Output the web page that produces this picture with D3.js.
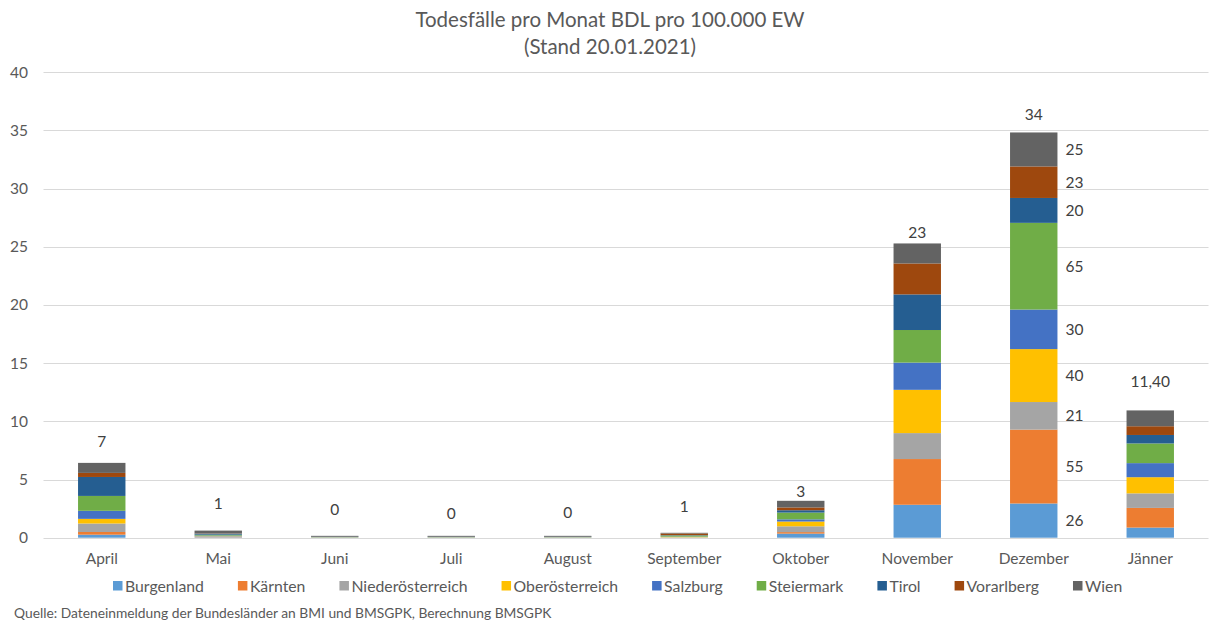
<!DOCTYPE html>
<html>
<head>
<meta charset="utf-8">
<script src="https://cdn.jsdelivr.net/npm/d3@7"></script>
<style>
  html, body { margin: 0; padding: 0; background: #fff; }
  svg { display: block; font-family: Lato, "Open Sans", sans-serif; }
</style>
</head>
<body>
<svg id="chart" width="1216" height="622"></svg>
<script>
// ---- Data ----
const months = ["April", "Mai", "Juni", "Juli", "August", "September", "Oktober", "November", "Dezember", "Jänner"];
const states = ["Burgenland", "Kärnten", "Niederösterreich", "Oberösterreich", "Salzburg", "Steiermark", "Tirol", "Vorarlberg", "Wien"];
const colors = ["#5B9BD5", "#ED7D31", "#A5A5A5", "#FFC000", "#4472C4", "#70AD47", "#255E91", "#9E480E", "#636363"];

const burgenland       = [0.26, 0.04, 0.00, 0.00, 0.00, 0.01, 0.35, 2.83, 2.94, 0.87];
const kaernten         = [0.23, 0.02, 0.00, 0.00, 0.00, 0.01, 0.13, 3.93, 6.35, 1.69];
const niederoesterreich= [0.73, 0.05, 0.04, 0.04, 0.04, 0.02, 0.50, 2.23, 2.37, 1.25];
const oberoesterreich  = [0.40, 0.02, 0.00, 0.00, 0.00, 0.03, 0.41, 3.72, 4.55, 1.39];
const salzburg         = [0.69, 0.05, 0.00, 0.00, 0.00, 0.02, 0.19, 2.34, 3.40, 1.21];
const steiermark       = [1.28, 0.08, 0.02, 0.02, 0.02, 0.10, 0.58, 2.80, 7.45, 1.69];
const tirol            = [1.63, 0.08, 0.02, 0.02, 0.02, 0.03, 0.20, 3.06, 2.14, 0.73];
const vorarlberg       = [0.35, 0.02, 0.00, 0.00, 0.00, 0.14, 0.24, 2.66, 2.71, 0.75];
const wien             = [0.86, 0.25, 0.08, 0.08, 0.08, 0.06, 0.57, 1.72, 2.92, 1.36];

// total labels above the bars and the level (in axis units) where each sits
const totalLabels = ["7", "1", "0", "0", "0", "1", "3", "23", "34", "11,40"];
const totalLabelLevel = [8.3, 2.9, 2.45, 2.1, 2.2, 2.65, 4.0, 26.2, 36.4, 13.4];

// labels shown beside the Dezember bar (one per state)
const dezemberLabels = ["26", "55", "21", "40", "30", "65", "20", "23", "25"];

const yTicks = [0, 5, 10, 15, 20, 25, 30, 35, 40];

const title1 = "Todesfälle pro Monat BDL pro 100.000 EW";
const title2 = "(Stand 20.01.2021)";
const source = "Quelle: Dateneinmeldung der Bundesländer an BMI und BMSGPK, Berechnung BMSGPK";

// ---- Build table ----
const seriesArrays = [burgenland, kaernten, niederoesterreich, oberoesterreich, salzburg, steiermark, tirol, vorarlberg, wien];
const table = months.map((m, i) => {
  const row = { month: m };
  states.forEach((s, j) => row[s] = seriesArrays[j][i]);
  return row;
});
const stacked = d3.stack().keys(states)(table);

// ---- Layout ----
const svg = d3.select("#chart");
const plotLeft = 43.5, plotRight = 1208.5, plotTop = 72.3, plotBottom = 537.7;
const textColor = "#595959";
const labelColor = "#404040";
const fontFamily = "Lato, sans-serif";

const x = d3.scaleBand().domain(months).range([plotLeft, plotRight]).paddingInner(0.593).paddingOuter(0.2965);
const y = d3.scaleLinear().domain([0, 40]).range([plotBottom, plotTop]);

// gridlines
svg.append("g").selectAll("line").data(yTicks).join("line")
  .attr("x1", plotLeft).attr("x2", plotRight)
  .attr("y1", d => Math.round(y(d)) + 0.5).attr("y2", d => Math.round(y(d)) + 0.5)
  .attr("stroke", "#D9D9D9").attr("stroke-width", 1);

// y axis labels
const yAxis = d3.axisLeft(y).tickValues(yTicks).tickSize(0).tickPadding(0);
const gy = svg.append("g").attr("transform", `translate(28,0)`).call(yAxis);
gy.select(".domain").remove();
gy.selectAll("text").attr("fill", textColor).style("font-size", "15.5px").style("font-family", fontFamily);

// x axis labels
const xAxis = d3.axisBottom(x).tickSize(0).tickPadding(0);
const gx = svg.append("g").attr("transform", `translate(0,${plotBottom + 15})`).call(xAxis);
gx.select(".domain").remove();
gx.selectAll("text").attr("fill", textColor).style("font-size", "15.5px").style("font-family", fontFamily);

// bars
svg.append("g").selectAll("g").data(stacked).join("g")
  .attr("fill", (d, i) => colors[i])
  .selectAll("rect").data(d => d).join("rect")
  .attr("x", d => x(d.data.month))
  .attr("width", x.bandwidth())
  .attr("y", d => y(d[1]))
  .attr("height", d => Math.max(0, y(d[0]) - y(d[1])));

// total labels
svg.append("g").selectAll("text").data(months).join("text")
  .attr("x", d => x(d) + x.bandwidth() / 2)
  .attr("y", (d, i) => y(totalLabelLevel[i]))
  .attr("dy", "0.35em")
  .attr("text-anchor", "middle")
  .attr("fill", labelColor)
  .style("font-size", "15.5px")
  .text((d, i) => totalLabels[i]);

// Dezember side labels
const dezIdx = months.indexOf("Dezember");
svg.append("g").selectAll("text").data(stacked).join("text")
  .attr("x", x("Dezember") + x.bandwidth() + 8)
  .attr("y", d => y((d[dezIdx][0] + d[dezIdx][1]) / 2))
  .attr("dy", "0.35em")
  .attr("fill", labelColor)
  .style("font-size", "15.5px")
  .text((d, i) => dezemberLabels[i]);

// title
svg.append("text").attr("x", 610).attr("y", 27).attr("text-anchor", "middle")
  .attr("fill", textColor).style("font-size", "20.5px").text(title1);
svg.append("text").attr("x", 610).attr("y", 54).attr("text-anchor", "middle")
  .attr("fill", textColor).style("font-size", "20.5px").text(title2);

// legend
const legend = svg.append("g");
let lx = 113;
const ly = 586;
states.forEach((s, i) => {
  const g = legend.append("g");
  g.append("rect").attr("x", lx).attr("y", ly - 5).attr("width", 9.5).attr("height", 9.5).attr("fill", colors[i]);
  const t = g.append("text").attr("x", lx + 12).attr("y", ly).attr("dy", "0.35em")
    .attr("fill", textColor).style("font-size", "15.8px").text(s);
  const w = t.node().getComputedTextLength();
  lx += 12 + w + 34;
});

// source
svg.append("text").attr("x", 14).attr("y", 613).attr("dy", "0.35em")
  .attr("fill", textColor).style("font-size", "13.8px").text(source);
</script>
</body>
</html>
